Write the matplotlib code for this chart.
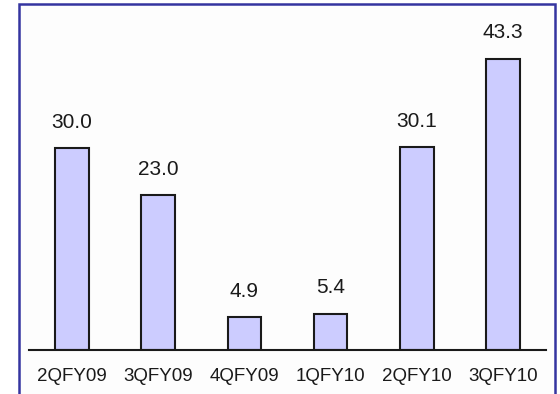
import matplotlib
matplotlib.use('Agg')
import matplotlib.pyplot as plt
from matplotlib.patches import Rectangle

quarters = ['2QFY09', '3QFY09', '4QFY09', '1QFY10', '2QFY10', '3QFY10']
values = [30.0, 23.0, 4.9, 5.4, 30.1, 43.3]

plt.rcParams['font.family'] = ['Liberation Sans', 'DejaVu Sans']

W, H = 560, 394
fig = plt.figure(figsize=(W / 100, H / 100), dpi=100)
fig.patch.set_facecolor('white')

# blue frame round the chart area (bottom edge runs off the page)
frame = Rectangle((19 / W, -0.05), (555 - 19) / W, (H - 4) / H + 0.05,
                  transform=fig.transFigure, facecolor='#fdfdfd',
                  edgecolor='#3535a0', linewidth=1.8, zorder=-5)
fig.add_artist(frame)

ax = fig.add_axes([29 / W, (H - 350) / H, (546 - 29) / W, 336.5 / H])
ax.set_facecolor('none')
ax.set_zorder(2)

x = range(len(quarters))
ax.bar(x, values, width=0.39, color='#ccccff', edgecolor='#1a1a1a',
       linewidth=1.5, zorder=2)
for xi, v in zip(x, values):
    ax.annotate('%.1f' % v, (xi, v), xytext=(0, 18.5), textcoords='offset points',
                ha='center', va='center', fontsize=15, color='#1a1a1a')

ax.set_xlim(-0.5, len(quarters) - 0.5)
ax.set_ylim(0, 50)
ax.set_xticks(list(x))
ax.set_xticklabels(quarters, fontsize=13.5, color='#1a1a1a')
ax.tick_params(axis='x', length=0, pad=13)
ax.set_yticks([])
for s in ['left', 'right', 'top']:
    ax.spines[s].set_visible(False)
ax.spines['bottom'].set_linewidth(1.5)
ax.spines['bottom'].set_color('#1a1a1a')

fig.savefig('out.png', dpi=100, facecolor=fig.get_facecolor())
